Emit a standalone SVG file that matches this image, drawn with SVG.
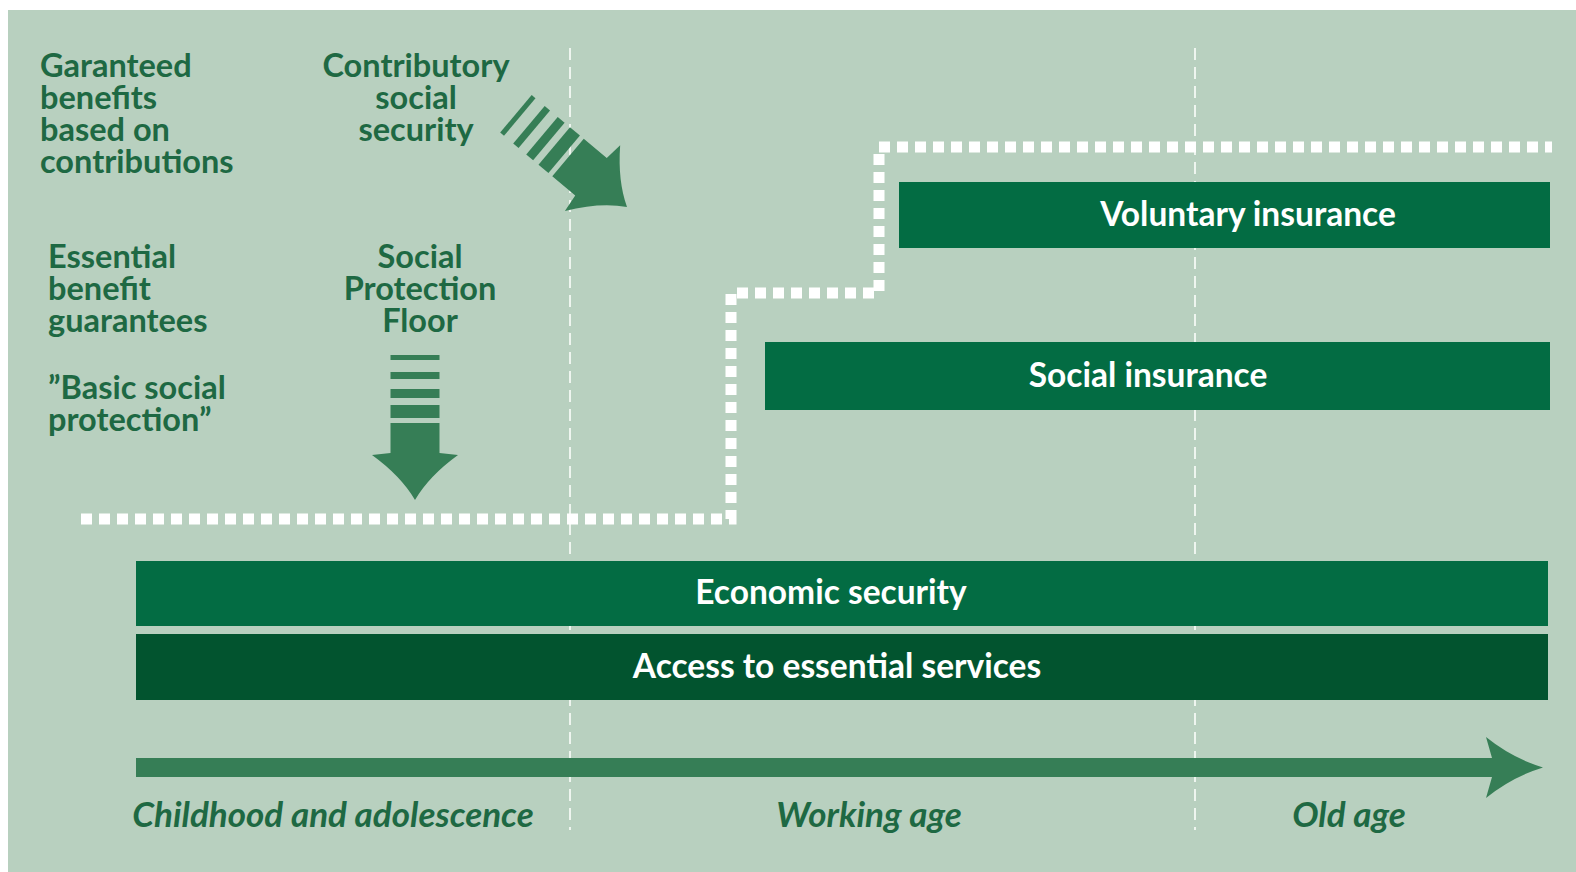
<svg xmlns="http://www.w3.org/2000/svg" xmlns:xlink="http://www.w3.org/1999/xlink" width="1576" height="872" viewBox="0 0 1576 872">
  <style>
    .panel { fill: #b8d0bf; }
    .divider { stroke: #eef5ef; stroke-width: 2; stroke-dasharray: 12 7; fill: none; }
    .floor { stroke: #ffffff; stroke-width: 11; stroke-dasharray: 11 7; fill: none; stroke-linejoin: miter; }
    .bar { fill: #036c43; }
    .bar-dark { fill: #02542f; }
    .arrow { fill: #367e56; }
    .lbl { font-family: Lato, "Liberation Sans", sans-serif; font-weight: bold; font-size: 32.5px; fill: #1e6943; }
    .bar-lbl { font-family: Lato, "Liberation Sans", sans-serif; font-weight: bold; font-size: 33.5px; fill: #ffffff; text-anchor: middle; }
    .age { font-family: Lato, "Liberation Sans", sans-serif; font-weight: bold; font-style: italic; font-size: 35px; fill: #1e6943; text-anchor: middle; }
    .mid { text-anchor: middle; }
  </style>
  <defs>
    <!-- striped arrow, tip at origin, pointing down (+y) -->
    <g id="stripedArrow" class="arrow">
      <rect x="-24.5" y="-145" width="49" height="5"/>
      <rect x="-24.5" y="-128" width="49" height="7"/>
      <rect x="-24.5" y="-111" width="49" height="9"/>
      <rect x="-24.5" y="-95" width="49" height="13"/>
      <path d="M-24.5,-77 H24.5 V-47 L43,-45 Q14,-24 0,0 Q-14,-24 -43,-45 L-24.5,-47 Z"/>
    </g>
  </defs>

  <!-- background panel -->
  <rect class="panel" x="8" y="10" width="1568" height="862"/>

  <!-- life-stage dividers -->
  <g id="dividers">
    <line class="divider" x1="570" y1="48" x2="570" y2="830"/>
    <line class="divider" x1="1195" y1="48" x2="1195" y2="830"/>
  </g>

  <!-- protection floor / ceiling step line and arrows -->
  <g id="connectors">
    <path class="floor" d="M81,519 H731 V293 H879 V147 H1552"/>
    <use id="arrow-spf" xlink:href="#stripedArrow" transform="translate(415,500)"/>
    <use id="arrow-contributory" xlink:href="#stripedArrow" transform="translate(627,207) rotate(-50)"/>
    <path id="arrow-timeline" class="arrow" d="M136,758 H1492 L1486,737 Q1512,758 1543,767.5 Q1512,777 1486,798 L1492,777 H136 Z"/>
  </g>

  <!-- left-hand captions -->
  <g id="label-guaranteed" class="lbl">
    <text x="40" y="77">Garanteed</text>
    <text x="40" y="109">benefits</text>
    <text x="40" y="141">based on</text>
    <text x="40" y="173">contributions</text>
  </g>
  <g id="label-contributory" class="lbl mid">
    <text x="416" y="77">Contributory</text>
    <text x="416" y="109">social</text>
    <text x="416" y="141">security</text>
  </g>
  <g id="label-essential" class="lbl">
    <text x="48" y="268">Essential</text>
    <text x="48" y="300">benefit</text>
    <text x="48" y="332">guarantees</text>
  </g>
  <g id="label-spf" class="lbl mid">
    <text x="420" y="268">Social</text>
    <text x="420" y="300">Protection</text>
    <text x="420" y="332">Floor</text>
  </g>
  <g id="label-basic" class="lbl">
    <text x="48" y="399">”Basic social</text>
    <text x="48" y="431">protection”</text>
  </g>

  <!-- benefit tiers -->
  <g id="voluntary-insurance">
    <rect class="bar" x="899" y="182" width="651" height="66"/>
    <text class="bar-lbl" x="1248" y="226">Voluntary insurance</text>
  </g>
  <g id="social-insurance">
    <rect class="bar" x="765" y="342" width="785" height="68"/>
    <text class="bar-lbl" x="1148" y="387">Social insurance</text>
  </g>
  <g id="economic-security">
    <rect class="bar" x="136" y="561" width="1412" height="65"/>
    <text class="bar-lbl" x="831" y="604">Economic security</text>
  </g>
  <g id="essential-services">
    <rect class="bar-dark" x="136" y="634" width="1412" height="66"/>
    <text class="bar-lbl" x="837" y="678">Access to essential services</text>
  </g>

  <!-- life stages -->
  <g id="life-stages" class="age">
    <text x="333" y="827">Childhood and adolescence</text>
    <text x="869" y="827">Working age</text>
    <text x="1349" y="827">Old age</text>
  </g>
</svg>
